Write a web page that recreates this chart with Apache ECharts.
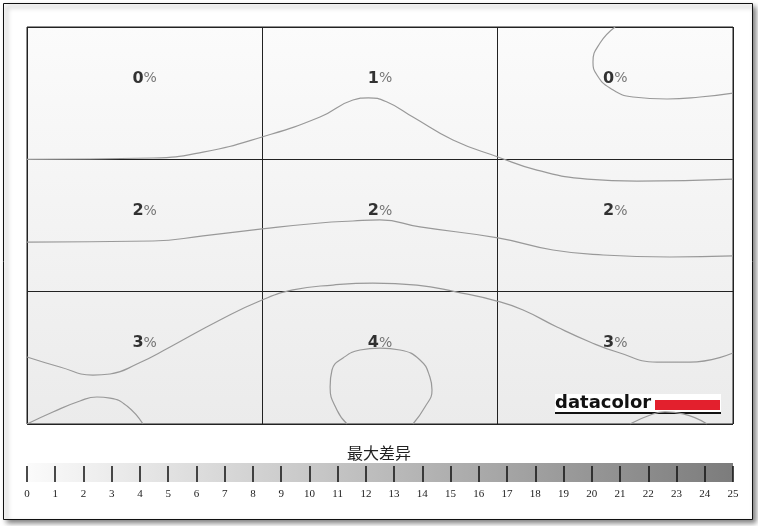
<!DOCTYPE html>
<html><head><meta charset="utf-8">
<script src="https://cdn.jsdelivr.net/npm/echarts@6/dist/echarts.min.js"></script>
<style>html,body{margin:0;padding:0;background:#fff;}#c{width:758px;height:526px;}</style>
</head><body><div id="c"></div>
<script>
// Cell values (rows top to bottom, columns left to right), percent
const rowValues = [
  [0, 1, 0],
  [2, 2, 2],
  [3, 4, 3]
];
// Legend scale ticks
const legendTicks = [0,1,2,3,4,5,6,7,8,9,10,11,12,13,14,15,16,17,18,19,20,21,22,23,24,25];
const legendTitle = '最大差异';
// Contour lines, in cell units: x 0..3 (columns), y 0..3 (rows, from top)
const contourA = [[0,1.0],[0.535,0.990],[0.748,0.945],[0.999,0.831],[1.245,0.680],[1.385,0.552],[1.45,0.535],[1.530,0.567],[1.640,0.680],[1.810,0.854],[2.001,0.982],[2.167,1.081],[2.380,1.149],[2.592,1.164],[3.0,1.149]];
const contourB = [[2.499,0],[2.435,0.121],[2.405,0.264],[2.422,0.363],[2.477,0.461],[2.575,0.529],[2.720,0.544],[2.860,0.529],[3.0,0.499]];
const contourC = [[0,1.625],[0.535,1.617],[0.748,1.579],[0.999,1.526],[1.245,1.481],[1.385,1.466],[1.500,1.458],[1.670,1.511],[2.001,1.594],[2.235,1.685],[2.448,1.723],[2.732,1.738],[3.0,1.730]];
const contourD = [[0,2.494],[0.140,2.569],[0.280,2.630],[0.353,2.622],[0.467,2.547],[0.608,2.418],[0.820,2.214],[0.999,2.063],[1.130,1.987],[1.300,1.950],[1.470,1.935],[1.657,1.950],[1.827,2.003],[1.997,2.071],[2.108,2.139],[2.252,2.267],[2.392,2.380],[2.507,2.456],[2.677,2.532],[2.817,2.532],[3.0,2.464]];
const contourE = [[0,3.0],[0.110,2.909],[0.225,2.826],[0.297,2.796],[0.353,2.804],[0.425,2.864],[0.493,3.0]];
const contourF = [[1.360,3.0],[1.317,2.894],[1.288,2.720],[1.296,2.592],[1.343,2.501],[1.415,2.441],[1.500,2.426],[1.585,2.441],[1.670,2.516],[1.712,2.645],[1.721,2.743],[1.691,2.872],[1.640,3.0]];
const contourG = [[2.562,3.0],[2.660,2.924],[2.711,2.909],[2.788,2.924],[2.890,3.0]];
const contours = [contourA, contourB, contourC, contourD, contourE, contourF, contourG];

const labelPoints = [];
rowValues.forEach((row, r) => row.forEach((v, c) => labelPoints.push([c + 0.5, r + 0.39, v])));

const chart = echarts.init(document.getElementById('c'), null, {renderer: 'canvas'});
const series = contours.map(pts => ({
  type: 'line', xAxisIndex: 0, yAxisIndex: 0, data: pts, smooth: 0.5,
  symbol: 'none', silent: true, z: 2,
  lineStyle: {color: '#999', width: 1.2}
}));
series.push({
  type: 'scatter', xAxisIndex: 0, yAxisIndex: 0, data: labelPoints, symbolSize: 0, z: 5, silent: true,
  label: {
    show: true, position: 'inside',
    formatter: p => '{d|' + p.value[2] + '}{p|%}',
    rich: {
      d: {fontFamily: 'DejaVu Sans', fontWeight: 'bold', fontSize: 16, color: '#000'},
      p: {fontFamily: 'DejaVu Sans', fontSize: 14, color: '#555'}
    }
  }
});
// legend axis needs a dummy series
series.push({type: 'line', xAxisIndex: 1, yAxisIndex: 1, data: [], symbol: 'none'});

chart.setOption({
  animation: false,
  backgroundColor: '#fff',
  title: {
    text: legendTitle, left: 'center', top: 440,
    textStyle: {fontFamily: 'Noto Sans CJK SC', fontWeight: 'normal', fontSize: 16, color: '#222'}
  },
  graphic: [
    {type: 'rect', z: -10, shape: {x: 3.5, y: 3.5, width: 749, height: 516},
     style: {fill: '#fff', stroke: '#111', lineWidth: 1, shadowBlur: 5, shadowOffsetX: 3, shadowOffsetY: 3, shadowColor: 'rgba(0,0,0,0.5)'}},
    {type: 'group', z: 100, children: [
      {type: 'rect', shape: {x: 555, y: 394, width: 166, height: 20}, style: {fill: '#fff'}},
      {type: 'text', x: 555, y: 412, style: {text: 'datacolor', fontFamily: 'DejaVu Sans', fontWeight: 'bold', fontSize: 18, fill: '#111', verticalAlign: 'bottom'}},
      {type: 'rect', shape: {x: 655, y: 400, width: 65, height: 10}, style: {fill: '#e3202d'}},
      {type: 'rect', shape: {x: 555, y: 412, width: 166, height: 2}, style: {fill: '#111'}}
    ]}
  ],
  grid: [
    {left: 27, top: 27, width: 706, height: 397, show: true, borderColor: '#222', borderWidth: 1,
     backgroundColor: {type: 'linear', x: 0, y: 0, x2: 0, y2: 1, colorStops: [{offset: 0, color: '#fbfbfb'}, {offset: 1, color: '#ebebeb'}]}},
    {left: 27, top: 463, width: 706, height: 19, show: true, borderWidth: 0,
     backgroundColor: {type: 'linear', x: 0, y: 0, x2: 1, y2: 0, colorStops: [{offset: 0, color: '#fbfbfb'}, {offset: 1, color: '#7c7c7c'}]}}
  ],
  xAxis: [
    {type: 'value', gridIndex: 0, min: 0, max: 3, interval: 1, axisLabel: {show: false}, axisTick: {show: false},
     axisLine: {show: false}, splitLine: {show: true, lineStyle: {color: '#222', width: 1}}},
    {type: 'value', gridIndex: 1, min: 0, max: 25, interval: 1, position: 'bottom',
     axisLine: {show: false}, splitLine: {show: false},
     axisTick: {show: true, inside: true, length: 16, lineStyle: {color: '#111', width: 1.5}},
     axisLabel: {show: true, margin: 7, fontFamily: 'Liberation Serif', fontSize: 11, color: '#222',
       formatter: v => legendTicks.indexOf(v) >= 0 ? String(v) : ''}}
  ],
  yAxis: [
    {type: 'value', gridIndex: 0, min: 0, max: 3, interval: 1, inverse: true, axisLabel: {show: false}, axisTick: {show: false},
     axisLine: {show: false}, splitLine: {show: true, lineStyle: {color: '#222', width: 1}}},
    {type: 'value', gridIndex: 1, min: 0, max: 1, show: false}
  ],
  series: series
});
</script></body></html>
